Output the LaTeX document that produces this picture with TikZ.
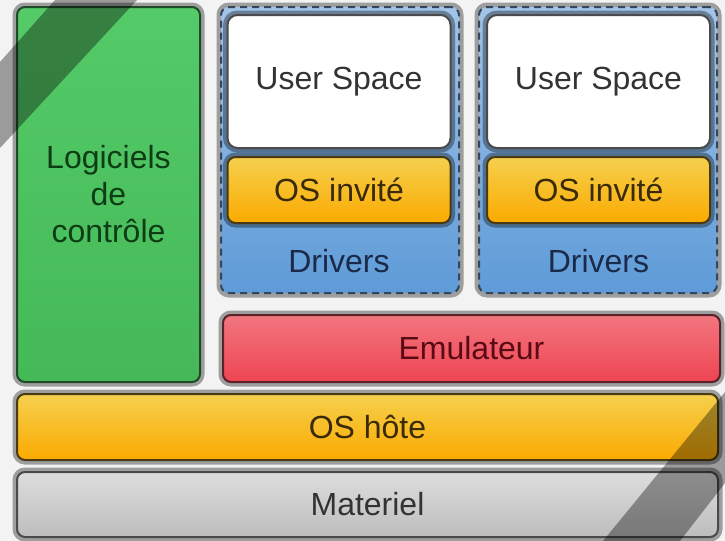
\documentclass[tikz,border=0pt]{standalone}
\usepackage{fontspec}
\setmainfont{Liberation Sans}
\definecolor{bgpage}{HTML}{F3F3F3}
\definecolor{greentop}{HTML}{55CA68}
\definecolor{greenbot}{HTML}{45B958}
\definecolor{greenline}{HTML}{1F4A28}
\definecolor{greentext}{HTML}{0D3D15}
\definecolor{bluetop}{HTML}{A2C4E8}
\definecolor{bluebot}{HTML}{5E9BD8}
\definecolor{blueline}{HTML}{34465C}
\definecolor{bluetext}{HTML}{1A2A48}
\definecolor{yellowtop}{HTML}{F5D04E}
\definecolor{yellowbot}{HTML}{FBAA00}
\definecolor{yellowline}{HTML}{4A3A12}
\definecolor{yellowtext}{HTML}{3A2A08}
\definecolor{redtop}{HTML}{F2767F}
\definecolor{redbot}{HTML}{EE4452}
\definecolor{redline}{HTML}{5A2228}
\definecolor{redtext}{HTML}{5A0A14}
\definecolor{greytop}{HTML}{DDDDDD}
\definecolor{greybot}{HTML}{BDBDBD}
\definecolor{darkline}{HTML}{4A4A4A}
\definecolor{darktext}{HTML}{333333}
\tikzset{
  glow/.style={preaction={draw=black, solid, line width=4.5pt, opacity=0.35}},
  layer/.style={draw, line width=1pt, rounded corners=4pt, inner sep=0pt,
    font=\fontsize{16}{18.5}\selectfont, glow},
  greenlayer/.style={layer, draw=greenline, top color=greentop, bottom color=greenbot, text=greentext, align=center},
  yellowlayer/.style={layer, draw=yellowline, top color=yellowtop, bottom color=yellowbot, text=yellowtext},
  redlayer/.style={layer, draw=redline, top color=redtop, bottom color=redbot, text=redtext},
  greylayer/.style={layer, draw=darkline, top color=greytop, bottom color=greybot, text=darktext},
  userlayer/.style={layer, draw=darkline, fill=white, text=darktext, rounded corners=5pt},
  guestbox/.style={layer, draw=blueline, top color=bluetop, bottom color=bluebot, dash pattern=on 3.5pt off 2.5pt},
  drvtext/.style={font=\fontsize{16}{18.5}\selectfont, text=bluetext},
  stripe/.style={fill=black, opacity=0.36}
}
\begin{document}
\begin{tikzpicture}[x=0.5pt,y=-0.5pt]
\fill[bgpage] (0,0) rectangle (725,541);
\useasboundingbox (0,0) rectangle (725,541);

\node[greenlayer, minimum width=91.5pt, minimum height=187.5pt] (logiciels) at (108.5,194.5) {Logiciels\\de\\contrôle};

\node[guestbox, minimum width=119pt, minimum height=143pt] (guest1) at (340,150) {};
\node[guestbox, minimum width=119pt, minimum height=143pt] (guest2) at (598,150) {};

\node[userlayer, minimum width=111.5pt, minimum height=66.5pt] (user1) at (339,81.5) {User Space};
\node[userlayer, minimum width=111.5pt, minimum height=66.5pt] (user2) at (598.5,81.5) {User Space};

\node[yellowlayer, minimum width=111.5pt, minimum height=33pt] (invite1) at (339,190) {OS invité};
\node[yellowlayer, minimum width=111.5pt, minimum height=33pt] (invite2) at (598.5,190) {OS invité};

\node[drvtext] (drivers1) at (339,261) {Drivers};
\node[drvtext] (drivers2) at (598.5,261) {Drivers};

\node[redlayer, minimum width=248.5pt, minimum height=33.5pt] (emulateur) at (471.5,348.5) {Emulateur};
\node[yellowlayer, minimum width=350.5pt, minimum height=33pt] (hote) at (367.5,427) {OS hôte};
\node[greylayer, minimum width=350.5pt, minimum height=32.5pt] (materiel) at (367.5,504.5) {Materiel};

\fill[stripe] (55,0) -- (137,0) -- (0,148) -- (0,62) -- cycle;
\fill[stripe] (603,541) -- (680,541) -- (725,483) -- (725,392) -- cycle;
\end{tikzpicture}
\end{document}
